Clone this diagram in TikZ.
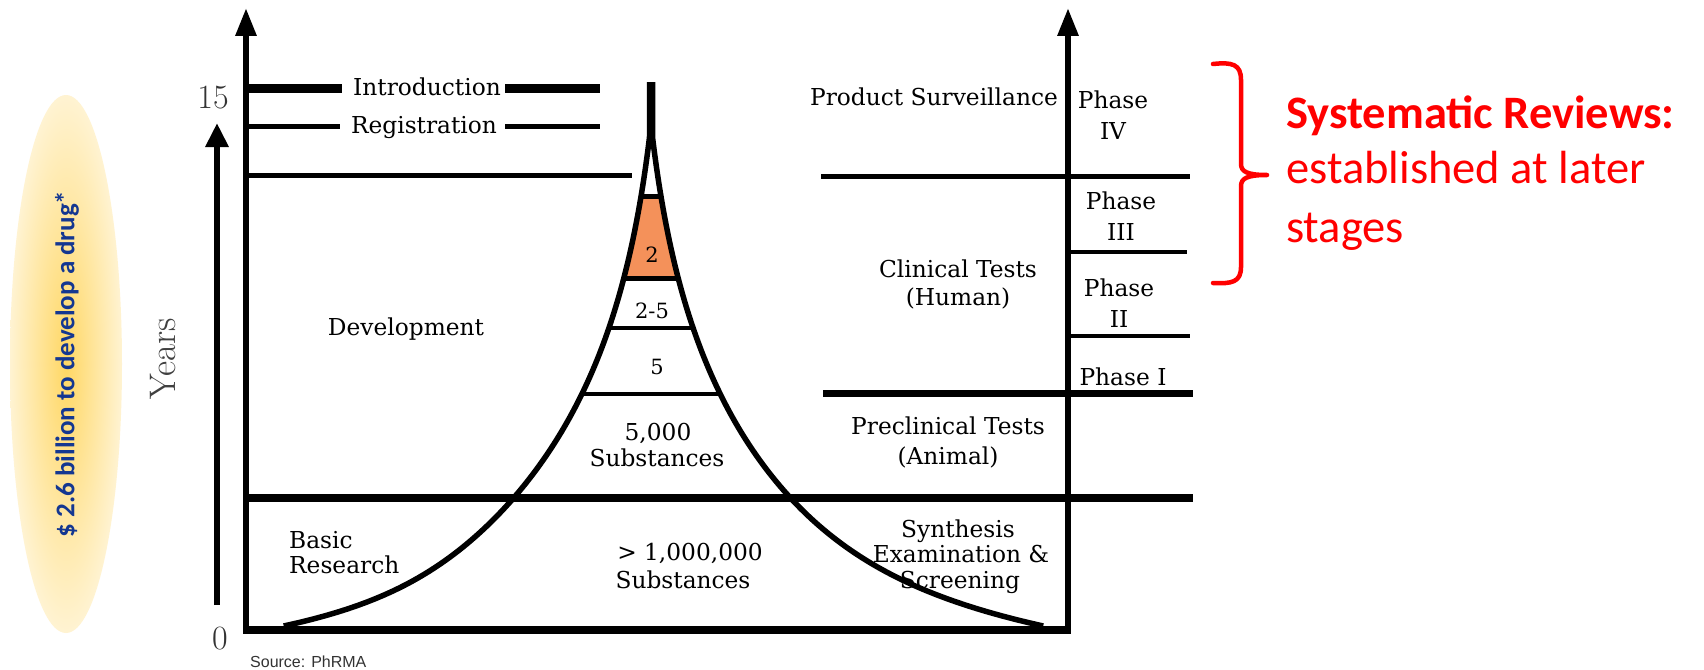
\documentclass[tikz,border=0pt]{standalone}
\usepackage{fontspec}
\newfontfamily\calib{Carlito}
\newfontfamily\arialf{Liberation Sans}
\newfontfamily\dvs{DejaVu Serif}
\usetikzlibrary{arrows.meta}
\definecolor{orng}{RGB}{244,145,90}
\definecolor{goldc}{RGB}{255,215,100}
\definecolor{palec}{RGB}{255,243,210}
\definecolor{navyc}{RGB}{20,55,145}
\begin{document}
\begin{tikzpicture}[x=1pt,y=-1pt,
  lbl/.style={inner sep=0pt, anchor=base, font=\dvs\fontsize{23.3}{26}\selectfont},
  redlbl/.style={inner sep=0pt, anchor=base west, text=red, font=\calib\fontsize{46.5}{50}\selectfont},
  axisline/.style={line width=6pt, -{Triangle[length=28pt,width=20pt]}},
  hline/.style={line width=#1, line cap=butt},
  curveline/.style={line width=5.5pt, line cap=butt, line join=round}
]
\fill[white] (0,0) rectangle (1704,669);
\useasboundingbox (0,0) rectangle (1704,669);

% cost ellipse
\shade[inner color=goldc, outer color=palec] (66,364) ellipse [x radius=56, y radius=269];
\node[rotate=90, inner sep=0pt, text=navyc, font=\calib\bfseries\fontsize{27}{29}\selectfont] (cost) at (67,364) {\$ 2.6 billion to develop a drug*};

% years axis
\coordinate (yb) at (217,605);
\coordinate (yt) at (217,123);
\draw[line width=6pt, -{Triangle[length=24pt,width=22pt]}] (yb) -- (yt);
\node[rotate=90, inner sep=0pt, text=black!75, font=\fontsize{37}{40}\selectfont] (years) at (163,359) {Years};
\node[inner sep=0pt, anchor=base, text=black!80, font=\fontsize{34}{36}\selectfont] (fifteen) at (213,108) {15};
\node[inner sep=0pt, anchor=base, text=black!80, font=\fontsize{34}{36}\selectfont] (zero) at (220,649) {0};

% frame axes
\coordinate (la0) at (246,630);
\coordinate (la1) at (246,8);
\coordinate (ra0) at (1068,630);
\coordinate (ra1) at (1068,8);
\draw[axisline] (la0) -- (la1);
\draw[axisline] (ra0) -- (ra1);
\draw[hline=8pt] (243,630) -- (1071,630);

% left horizontal lines
\node[lbl] (intro) at (427,95) {Introduction};
\node[lbl] (regis) at (424,133) {Registration};
\draw[hline=9pt] (246,88) -- (342,88);
\draw[hline=9pt] (505,88) -- (600,88);
\draw[hline=5pt] (246,126) -- (340,126);
\draw[hline=5pt] (505,126) -- (600,126);
\draw[hline=5pt] (246,175) -- (632,175);

% right horizontal lines
\draw[hline=5pt] (821,176) -- (1190,176);
\draw[hline=4.5pt] (1068,252) -- (1187,252);
\draw[hline=4.5pt] (1068,336) -- (1190,336);
\draw[hline=7pt] (823,393) -- (1193,393);
\draw[hline=8pt] (246,498) -- (1193,498);

% pyramid
\fill[orng] (641,197) -- (662,197) -- (678,278) -- (624,278) -- cycle;
\draw[hline=5pt] (639,196) -- (663,196);
\draw[hline=5pt] (622,278) -- (679,278);
\draw[hline=4.5pt] (609,328) -- (694,328);
\draw[hline=4.5pt] (581,394) -- (721,394);
\draw[curveline] plot[domain=82:626, samples=160, variable=\t]
  ({651 - max(1.5, 158*exp(0.0054*(\t-498)) - 21) - 70*exp((\t-625)/25)}, {\t});
\draw[curveline] plot[domain=82:626, samples=160, variable=\t]
  ({651 + max(1.5, 158*exp(0.0054*(\t-498)) - 21) + 95*exp((\t-625)/35)}, {\t});

% pyramid labels
\node[lbl, font=\dvs\fontsize{21}{24}\selectfont] (n2) at (652,262) {2};
\node[lbl, font=\dvs\fontsize{21}{24}\selectfont] (n25) at (652,318) {2-5};
\node[lbl, font=\dvs\fontsize{21}{24}\selectfont] (n5) at (657,374) {5};
\node[lbl] (n5000) at (658,440) {5,000};
\node[lbl] (n5000s) at (657,466) {Substances};
\node[lbl] (nmil) at (690,560) {> 1,000,000};
\node[lbl] (nmils) at (683,588) {Substances};

% left stage labels
\node[lbl] (dev) at (406,335) {Development};
\node[lbl, anchor=base west] (basic1) at (289,548) {Basic};
\node[lbl, anchor=base west] (basic2) at (289,573) {Research};

% right stage labels
\node[lbl] (prod) at (934,105) {Product Surveillance};
\node[lbl] (p4a) at (1113,108) {Phase};
\node[lbl] (p4b) at (1113,139) {IV};
\node[lbl] (p3a) at (1121,209) {Phase};
\node[lbl] (p3b) at (1121,240) {III};
\node[lbl] (clin1) at (958,277) {Clinical Tests};
\node[lbl] (clin2) at (958,305) {(Human)};
\node[lbl] (p2a) at (1119,296) {Phase};
\node[lbl] (p2b) at (1119,327) {II};
\node[lbl] (p1) at (1123,385) {Phase I};
\node[lbl] (pre1) at (948,434) {Preclinical Tests};
\node[lbl] (pre2) at (948,464) {(Animal)};
\node[lbl] (syn1) at (958,537) {Synthesis};
\node[lbl] (syn2) at (961,562) {Examination \&};
\node[lbl] (syn3) at (960,588) {Screening};

% source
\node[inner sep=0pt, anchor=west, text=black!80, font=\arialf\fontsize{16}{18}\selectfont] (src) at (250,662) {Source: PhRMA};

% brace and note
\draw[red, line width=4.5pt, line cap=round, line join=round]
  (1213,64) .. controls (1232,62) and (1241,64) .. (1241,80)
  -- (1241,164) .. controls (1241,172) and (1248,175) .. (1267,175)
  .. controls (1248,175) and (1241,178) .. (1241,186)
  -- (1241,267) .. controls (1241,282) and (1232,284) .. (1213,283);
\node[redlbl, font=\calib\bfseries\fontsize{46.5}{50}\selectfont] (sr1) at (1286,128) {Systematic Reviews:};
\node[redlbl] (sr2) at (1286,183) {established at later};
\node[redlbl] (sr3) at (1286,242) {stages};
\end{tikzpicture}
\end{document}
